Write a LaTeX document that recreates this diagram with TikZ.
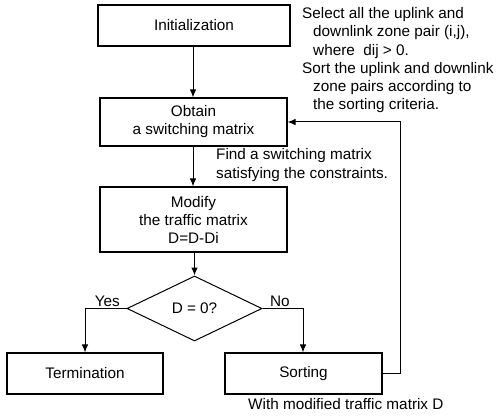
\documentclass[tikz,border=0pt]{standalone}
\usepackage{fontspec}
\setmainfont{Liberation Sans}
\usetikzlibrary{arrows.meta,shapes.geometric}
\begin{document}
\begin{tikzpicture}[x=1pt,y=-1pt,
  every node/.style={font=\fontsize{15.3}{18}\selectfont},
  box/.style={draw,line width=1.1pt,inner sep=0pt,align=center},
  ann/.style={anchor=base west,inner sep=0pt},
  conn/.style={line width=1pt,-{Latex[length=8pt,width=6.5pt]}},
  plain/.style={line width=1pt}]
\useasboundingbox (0,0) rectangle (498,417);
% boxes
\node[box,minimum width=192pt,minimum height=41pt] (init) at (194,25.5) {Initialization};
\node[box,minimum width=187pt,minimum height=48pt] (obtain) at (193.5,122) {Obtain\\a switching matrix};
\node[box,minimum width=187pt,minimum height=65pt] (modify) at (193.5,219.5) {Modify\\the traffic matrix\\D=D-Di};
\node[draw,line width=1pt,diamond,aspect=2.08,minimum width=135pt,minimum height=65pt,inner sep=0pt] (dec) at (194.5,308.5) {D = 0?};
\node[box,minimum width=156pt,minimum height=41pt] (term) at (85,373.5) {Termination};
\node[box,minimum width=157pt,minimum height=41pt] (sort) at (303.5,373.5) {Sorting};
% helper coordinates
\coordinate (yesc) at (85,308.5);
\coordinate (noc) at (303,308.5);
\coordinate (fb1) at (400,373.5);
\coordinate (fb2) at (400,122);
% connectors
\draw[conn] (init.south -| 193,0) -- (obtain.north -| 193,0);
\draw[conn] (obtain.south -| 193,0) -- (modify.north -| 193,0);
\draw[conn] (modify.south -| 194.5,0) -- (dec.north);
\draw[conn] (dec.west) -- (yesc) -- (term.north);
\draw[conn] (dec.east) -- (noc) -- (sort.north -| noc);
\draw[conn] (sort.east) -- (fb1) -- (fb2) -- (obtain.east);
% labels
\node[anchor=base east,inner sep=0pt] (yes) at (120,306) {Yes};
\node[anchor=base west,inner sep=0pt] (no) at (270,306) {No};
\node[ann] (a1) at (302,18.5) {Select all the uplink and};
\node[ann] (a2) at (313,36.8) {downlink zone pair (i,j),};
\node[ann] (a3) at (313,55.2) {where\ \ dij > 0.};
\node[ann] (a4) at (302,73.5) {Sort the uplink and downlink};
\node[ann] (a5) at (313,91.8) {zone pairs according to};
\node[ann] (a6) at (313,110) {the sorting criteria.};
\node[ann] (f1) at (216,160) {Find a switching matrix};
\node[ann] (f2) at (216,178.5) {satisfying the constraints.};
\node[ann] (w1) at (248,409) {With modified traffic matrix D};
\end{tikzpicture}
\end{document}
